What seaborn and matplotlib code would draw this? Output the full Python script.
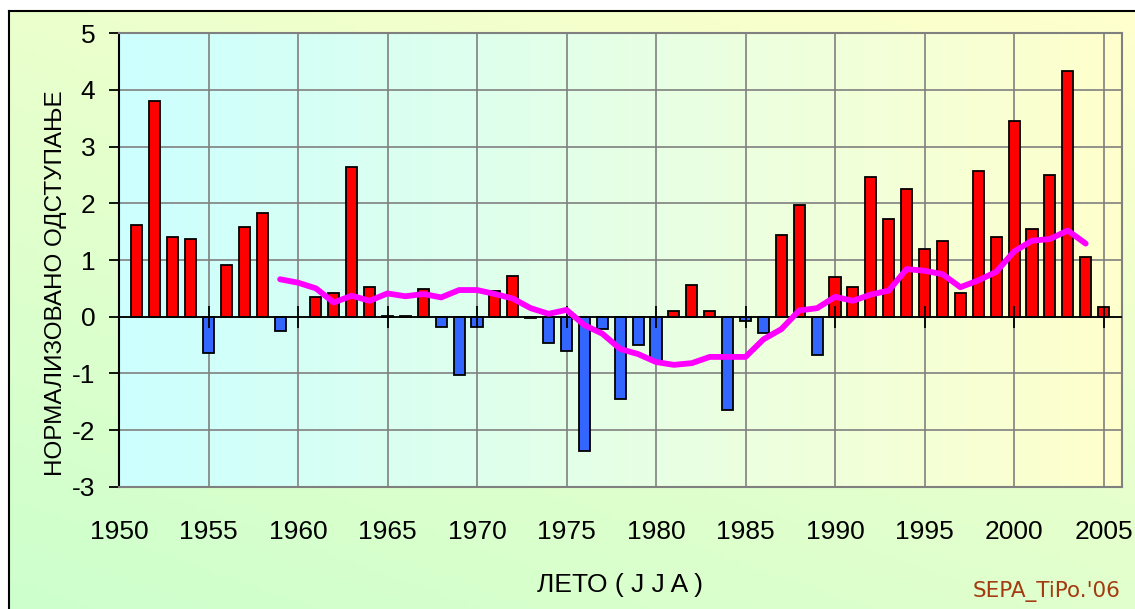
import numpy as np
import pandas as pd
import matplotlib
matplotlib.use("Agg")
import matplotlib.pyplot as plt
import seaborn as sns

# ---------------- data ----------------
years = list(range(1951, 2006))
values = [1.62, 3.81, 1.41, 1.37, -0.64, 0.91, 1.58, 1.83, -0.26, np.nan,
          0.35, 0.42, 2.64, 0.52, 0.02, 0.02, 0.49, -0.19, -1.03, -0.19,
          0.46, 0.71, -0.03, -0.46, -0.61, -2.37, -0.22, -1.46, -0.50, -0.78,
          0.10, 0.56, 0.10, -1.64, -0.08, -0.29, 1.44, 1.97, -0.68, 0.70,
          0.52, 2.46, 1.72, 2.25, 1.19, 1.34, 0.42, 2.57, 1.41, 3.45,
          1.55, 2.50, 4.34, 1.05, 0.17]
ma_years = list(range(1959, 2005))
ma_values = [0.66, 0.60, 0.50, 0.25, 0.37, 0.28, 0.41, 0.36, 0.40, 0.34,
             0.47, 0.47, 0.40, 0.32, 0.15, 0.05, 0.12, -0.15, -0.30, -0.57,
             -0.66, -0.80, -0.85, -0.82, -0.71, -0.71, -0.71, -0.40, -0.22, 0.11,
             0.15, 0.35, 0.28, 0.39, 0.46, 0.84, 0.81, 0.75, 0.52, 0.64,
             0.79, 1.15, 1.34, 1.37, 1.52, 1.29]
x_ticks = [1950, 1955, 1960, 1965, 1970, 1975, 1980, 1985, 1990, 1995, 2000, 2005]
y_ticks = [-3, -2, -1, 0, 1, 2, 3, 4, 5]
ylabel_text = "НОРМАЛИЗОВАНО ОДСТУПАЊЕ"
xlabel_text = "ЛЕТО ( J J A )"
credit_text = "SEPA_TiPo.'06"

# ---------------- style ----------------
sns.set_theme(style="white")
plt.rcParams["font.family"] = ["Liberation Sans", "DejaVu Sans"]

fig = plt.figure(figsize=(11.35, 6.09), dpi=100)
fig.patch.set_facecolor("white")

# chart-area background (diagonal gradient, black border)
bg = fig.add_axes([9 / 1135, -0.02, 1.0, 1 - 11 / 609 + 0.02], zorder=-10)
gx = np.linspace(0, 1, 200)
gy = np.linspace(0, 1, 120)
GX, GY = np.meshgrid(gx, gy)  # GY=0 at top (imshow origin upper)
t = np.clip(((1 - GX) * 0.6 + GY * 0.9) / 1.5, 0, 1)
c0 = np.array([255, 255, 204]) / 255.0  # top-right yellow
c1 = np.array([204, 255, 204]) / 255.0  # bottom-left green
img = c0[None, None, :] * (1 - t[..., None]) + c1[None, None, :] * t[..., None]
bg.imshow(img, aspect="auto", extent=[0, 1, 0, 1], origin="upper")
bg.set_xlim(0, 1)
bg.set_ylim(0, 1)
bg.set_xticks([])
bg.set_yticks([])
for s in bg.spines.values():
    s.set_color("black")
    s.set_linewidth(1.5)

# plot area
ax = fig.add_axes([119 / 1135, 1 - 486.7 / 609, (1122 - 119) / 1135, (486.7 - 33.3) / 609])
ax.set_facecolor("none")
pg = np.linspace(0, 1, 256)
left_c = np.array([204, 255, 255]) / 255.0
right_c = np.array([255, 255, 204]) / 255.0
pimg = left_c[None, :] * (1 - pg[:, None]) + right_c[None, :] * pg[:, None]
ax.imshow(pimg[None, :, :], aspect="auto", extent=[0, 1, 0, 1],
          transform=ax.transAxes, zorder=-5)

df = pd.DataFrame({"year": years, "value": values}).dropna()
df["sign"] = np.where(df["value"] >= 0, "pos", "neg")
sns.barplot(data=df, x="year", y="value", hue="sign", native_scale=True,
            palette={"pos": "#FF0000", "neg": "#3366FF"}, dodge=False,
            width=0.62, edgecolor="black", linewidth=1.3, legend=False,
            saturation=1, ax=ax, zorder=3)

sns.lineplot(x=ma_years, y=ma_values, color="#FF00FF", lw=4.2,
             solid_capstyle="round", solid_joinstyle="round", ax=ax, zorder=4)

# zero (category) axis with cross tick marks
ax.axhline(0, color="black", lw=1.3, zorder=3.5)
ax.plot(x_ticks, [0] * len(x_ticks), ls="none", marker="|", ms=16, mew=1.3,
        color="black", zorder=3.5)

ax.set_xlim(1950, 2006.03)
ax.set_ylim(-3, 5)
ax.set_xticks(x_ticks)
ax.set_yticks(y_ticks)
ax.set_xticklabels([str(v) for v in x_ticks])
ax.set_yticklabels([str(v) for v in y_ticks])
ax.grid(True, color="#808080", lw=1.2)
ax.set_axisbelow(True)

ax.tick_params(axis="x", length=0, pad=24, labelsize=19, colors="black")
ax.tick_params(axis="y", length=7, width=1.3, direction="out", pad=10,
               labelsize=19, colors="black", left=True)

ax.spines["left"].set_color("black")
ax.spines["left"].set_linewidth(1.5)
for s in ["top", "right", "bottom"]:
    ax.spines[s].set_color("#808080")
    ax.spines[s].set_linewidth(1.5)

ax.set_xlabel("")
ax.set_ylabel("")
fig.text(56 / 1135, 1 - 283 / 609, ylabel_text, rotation=90, ha="center",
         va="center", fontsize=17.5, color="black")
fig.text(620 / 1135, 1 - 585 / 609, xlabel_text, ha="center", va="center",
         fontsize=19, color="black")
fig.text(1121 / 1135, 1 - 591 / 609, credit_text, ha="right", va="center",
         fontsize=15.5, color="#A33A10", family=["DejaVu Sans"])

fig.savefig("out.png", dpi=100)
